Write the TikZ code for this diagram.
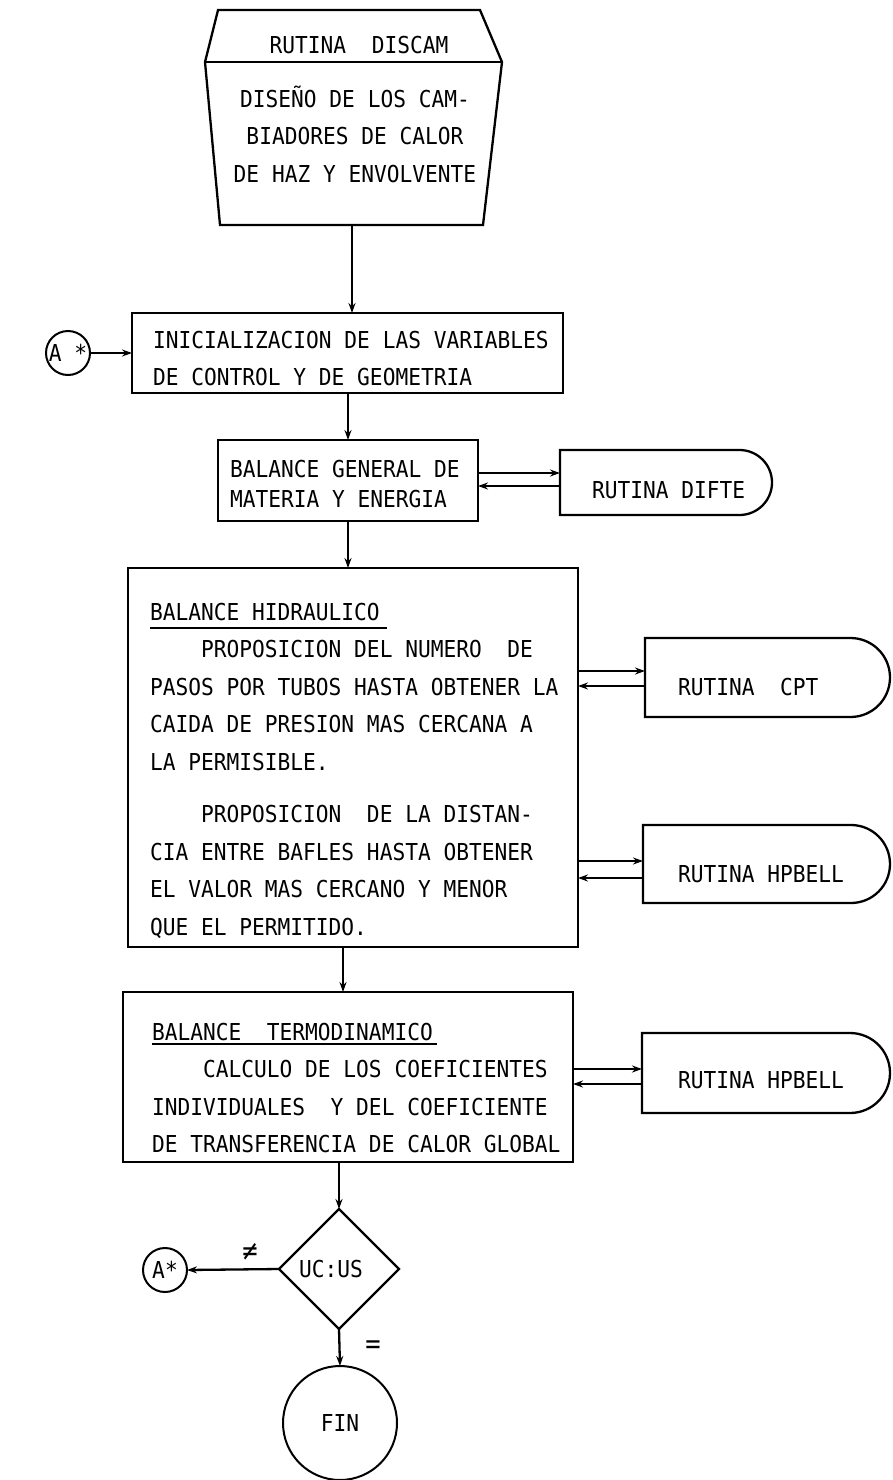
\documentclass[tikz,border=0pt]{standalone}
\usepackage{fontspec}
\newfontfamily\flowfont[FakeStretch=0.91]{DejaVu Sans Mono}
\usetikzlibrary{arrows.meta,shapes.geometric,shapes.misc}
% stacked lines, first baseline is the box baseline
\newcommand\flowlines[2][l]{\begin{tabular}[t]{@{}#1@{}}#2\end{tabular}}
% underlined heading: text, drop of the rule, rule length
\newcommand\flowul[3]{\rlap{\rule[-#2]{#3}{2pt}}#1}

\begin{document}
\begin{tikzpicture}[x=1pt,y=-1pt,line width=2.3pt,
  every node/.style={inner sep=0pt,outer sep=0pt,
    font=\flowfont\fontsize{23.3pt}{37.5pt}\selectfont},
  tight/.style={font=\flowfont\fontsize{23.3pt}{30pt}\selectfont},
  box/.style={draw,rectangle},
  routine/.style={draw,rounded rectangle,rounded rectangle west arc=none},
  txt/.style={anchor=base west},
  conn/.style={draw,circle,line width=2pt},
  arr/.style={-{Stealth[length=10pt,width=7pt]}}
]
\useasboundingbox (0,0) rectangle (892,1480);

% start block: routine name over the description
\coordinate (t1) at (218,10);
\coordinate (t2) at (480,10);
\coordinate (m2) at (502,62);
\coordinate (b2) at (483,225);
\coordinate (b1) at (220,225);
\coordinate (m1) at (205,62);
\draw[line join=miter] (t1) -- (t2) -- (m2) -- (b2) -- (b1) -- (m1) -- cycle;
\draw (m1) -- (m2);
\node[anchor=base] (dhead) at (359,53) {RUTINA~~DISCAM};
\node[anchor=base] (dbody) at (355,107)
  {\flowlines[c]{DISEÑO DE LOS CAM-\\BIADORES DE CALOR\\DE HAZ Y ENVOLVENTE}};
\coordinate (dbot) at (352,225);

% initialisation
\node[box,minimum width=431pt,minimum height=80pt] (init) at (347.5,353) {};
\node[txt] (initt) at (153,348)
  {\flowlines{INICIALIZACION DE LAS VARIABLES\\DE CONTROL Y DE GEOMETRIA}};
\node[conn,minimum size=44pt] (a1) at (68,353) {A~*};

% general balance
\node[box,minimum width=260pt,minimum height=81pt] (gen) at (348,480.5) {};
\node[txt,tight] (gent) at (230,477)
  {\flowlines{BALANCE GENERAL DE\\MATERIA Y ENERGIA}};
\node[routine,minimum width=212pt,minimum height=65pt] (difte) at (666,482.5) {};
\node[txt] (diftet) at (592,498) {RUTINA DIFTE};

% hydraulic balance
\node[box,minimum width=450pt,minimum height=379pt] (hid) at (353,757.5) {};
\node[txt] (hidt) at (150,620) {\flowlines{%
  \flowul{BALANCE HIDRAULICO}{8.9pt}{237pt}\\
  ~~~~PROPOSICION DEL NUMERO~~DE\\
  PASOS POR TUBOS HASTA OBTENER LA\\
  CAIDA DE PRESION MAS CERCANA A\\
  LA PERMISIBLE.\\[15.3pt]
  ~~~~PROPOSICION~~DE LA DISTAN-\\
  CIA ENTRE BAFLES HASTA OBTENER\\
  EL VALOR MAS CERCANO Y MENOR\\
  QUE EL PERMITIDO.}};
\node[routine,minimum width=245pt,minimum height=79pt] (cpt) at (767.5,677.5) {};
\node[txt] (cptt) at (678,695) {RUTINA~~CPT};
\node[routine,minimum width=247pt,minimum height=78pt] (hp1) at (766.5,864) {};
\node[txt] (hp1t) at (678,882) {RUTINA HPBELL};

% thermodynamic balance
\node[box,minimum width=450pt,minimum height=170pt] (termo) at (348,1077) {};
\node[txt] (termot) at (152,1040) {\flowlines{%
  \flowul{BALANCE~~TERMODINAMICO}{4.6pt}{285pt}\\
  ~~~~CALCULO DE LOS COEFICIENTES\\
  INDIVIDUALES~~Y DEL COEFICIENTE\\
  DE TRANSFERENCIA DE CALOR GLOBAL}};
\node[routine,minimum width=248pt,minimum height=80pt] (hp2) at (766,1073) {};
\node[txt] (hp2t) at (678,1088) {RUTINA HPBELL};

% convergence test and end
\node[draw,diamond,aspect=1,minimum width=120pt,minimum height=120pt] (dec) at (339,1269) {};
\node[anchor=base] (dect) at (331,1277) {UC:US};
\node[conn,minimum size=44pt] (a2) at (165,1270) {A*};
\node[conn,minimum size=114pt] (fin) at (340,1423) {FIN};
\node[font=\flowfont\fontsize{28pt}{30pt}\selectfont] (ne) at (250,1252) {≠};
\node[font=\flowfont\fontsize{28pt}{30pt}\selectfont] (eq) at (373,1347) {=};

% connectors
\draw[arr] (dbot) -- (dbot |- init.north);
\draw[arr] (a1.east) -- (a1.east -| init.west);
\draw[arr] (init.south -| gen.north) -- (gen.north);
\draw[arr] ([yshift=7.5pt]gen.east) -- ([yshift=7.5pt]gen.east -| difte.west);
\draw[arr] ([yshift=-5.5pt]gen.east -| difte.west) -- ([yshift=-5.5pt]gen.east);
\draw[arr] (gen.south) -- (gen.south |- hid.north);
\draw[arr] ([yshift=86.5pt]hid.east) -- ([yshift=86.5pt]hid.east -| cpt.west);
\draw[arr] ([yshift=71.5pt]hid.east -| cpt.west) -- ([yshift=71.5pt]hid.east);
\draw[arr] ([yshift=-103.5pt]hid.east) -- ([yshift=-103.5pt]hid.east -| hp1.west);
\draw[arr] ([yshift=-120.5pt]hid.east -| hp1.west) -- ([yshift=-120.5pt]hid.east);
\draw[arr] ([xshift=-10pt]hid.south) -- ([xshift=-10pt]hid.south |- termo.north);
\draw[arr] ([yshift=8pt]termo.east) -- ([yshift=8pt]termo.east -| hp2.west);
\draw[arr] ([yshift=-7pt]termo.east -| hp2.west) -- ([yshift=-7pt]termo.east);
\draw[arr] (dec.north |- termo.south) -- (dec.north);
\draw[arr] (dec.west) -- (a2.east);
\draw[arr] (dec.south) -- (fin.north);
\end{tikzpicture}
\end{document}
